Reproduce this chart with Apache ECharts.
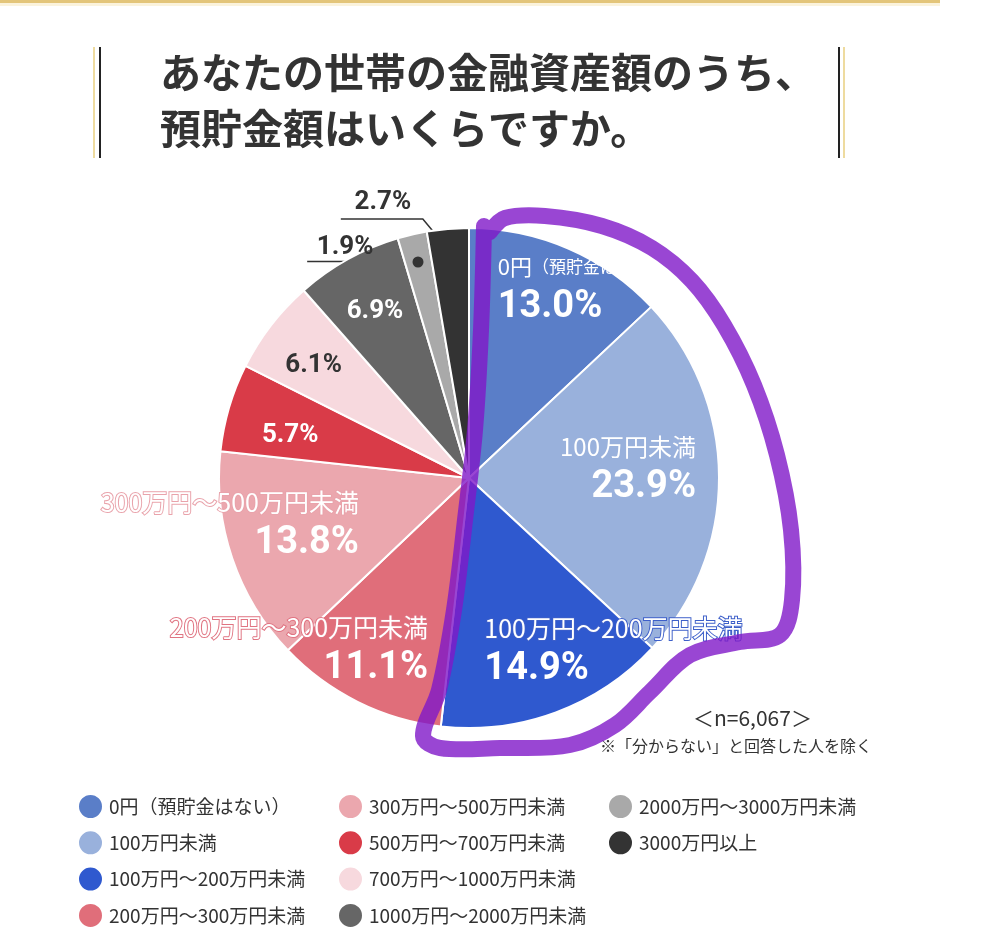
<!DOCTYPE html>
<html>
<head>
<meta charset="utf-8">
<script src="https://cdn.jsdelivr.net/npm/echarts@6/dist/echarts.min.js"></script>
<style>
  html, body { margin: 0; padding: 0; background: #fff; }
  #main { width: 987px; height: 947px; }
</style>
</head>
<body>
<div id="main"></div>
<script>
// 回答カテゴリと割合（%）
var categories = [
  '0円（預貯金はない）', '100万円未満', '100万円～200万円未満', '200万円～300万円未満',
  '300万円～500万円未満', '500万円～700万円未満', '700万円～1000万円未満',
  '1000万円～2000万円未満', '2000万円～3000万円未満', '3000万円以上'
];
var shares = [13.0, 23.9, 14.9, 11.1, 13.8, 5.7, 6.1, 6.9, 1.9, 2.7];
var colors = ['#5a7ec8', '#99b1dc', '#2f59cf', '#e06e7a', '#eba7ae', '#d93b48', '#f7d9de', '#666666', '#a9a9a9', '#333333'];

// ラベルの位置調整（既定位置からのずれ）
var labelShift = [[63, -71], [31, -8], [100, 53], [-113, 58], [-118, 6], [-56, -6], [-54, -34], [-32, -55]];

var cjk = '"Noto Sans CJK JP", sans-serif';
var num = 'Roboto, "Noto Sans", sans-serif';

var myChart = echarts.init(document.getElementById('main'));

var pieData = categories.map(function (name, i) {
  var item = { name: name, value: shares[i], itemStyle: { color: colors[i] } };
  if (i >= 8) {
    item.label = { position: 'outside' };
    item.labelLine = { show: true, lineStyle: { color: '#333', width: 1.5 } };
  }
  return item;
});

function labelText(p) {
  var i = p.dataIndex, pct = p.value.toFixed(1) + '%';
  if (i === 0) return '{z0|0円}{z1|（預貯金はない）}\n{vL|' + pct + '}';
  if (i === 2) return '{n2|' + p.name + '}\n{vL|' + pct + '}';
  if (i >= 1 && i <= 4) return '{n' + i + '|' + p.name + '}\n{vR|' + pct + '}';
  if (i === 6 || i >= 8) return '{sd|' + pct + '}';
  return '{s|' + pct + '}';
}

var option = {
  backgroundColor: '#fff',
  animation: false,
  title: [{
    text: 'あなたの世帯の金融資産額のうち、\n預貯金額はいくらですか。',
    left: 160, top: 44, padding: 0,
    textStyle: { fontFamily: cjk, fontSize: 41, fontWeight: 'bold', color: '#333', lineHeight: 56 }
  }, {
    text: '＜n=6,067＞',
    left: 693, top: 708, padding: 0,
    textStyle: { fontFamily: cjk, fontSize: 21, fontWeight: 'normal', color: '#333' }
  }, {
    text: '※「分からない」と回答した人を除く',
    left: 600, top: 738, padding: 0,
    textStyle: { fontFamily: cjk, fontSize: 16, fontWeight: 'normal', color: '#333' }
  }],
  legend: [0, 1, 2].map(function (c) {
    return {
      orient: 'vertical',
      left: [77, 337, 607][c], top: 793, padding: 0,
      itemWidth: 25, itemHeight: 25, itemGap: 9.3,
      icon: 'circle',
      selectedMode: false,
      data: categories.slice(c * 4, c * 4 + 4),
      textStyle: { fontFamily: cjk, fontSize: 19, color: '#333', padding: [0, 0, 0, 1] }
    };
  }),
  graphic: [
    { type: 'rect', shape: { x: 0, y: 0, width: 940, height: 3 }, style: { fill: '#e3c57a' } },
    { type: 'rect', shape: { x: 0, y: 3, width: 940, height: 3 }, style: { fill: '#fbf3dc' } },
    { type: 'rect', shape: { x: 93, y: 47, width: 2, height: 111 }, style: { fill: '#eedb9f' } },
    { type: 'rect', shape: { x: 99, y: 47, width: 2, height: 111 }, style: { fill: '#222' } },
    { type: 'rect', shape: { x: 838, y: 47, width: 2, height: 111 }, style: { fill: '#222' } },
    { type: 'rect', shape: { x: 843, y: 47, width: 2, height: 111 }, style: { fill: '#eedb9f' } },
    { type: 'circle', z: 50, shape: { cx: 418, cy: 262, r: 5.5 }, style: { fill: '#333' } },
    // 手書きの強調線
    {
      type: 'polyline', z: 100,
      shape: {
        smooth: 0.35,
        points: [[484, 226], [481, 330], [475, 430], [465, 520], [454, 610], [439, 690], [423, 736],
          [440, 748], [500, 748], [570, 745], [615, 725], [650, 692], [690, 655], [740, 642], [780, 635],
          [792, 600], [791, 530], [777, 455], [754, 385], [724, 325], [692, 281], [652, 248], [602, 226],
          [545, 216], [505, 218], [490, 232]]
      },
      style: { stroke: 'rgba(128, 24, 200, 0.8)', lineWidth: 16, fill: null, lineJoin: 'round', lineCap: 'round' }
    }
  ],
  series: [{
    type: 'pie',
    center: [469, 478],
    radius: [0, 250],
    startAngle: 90,
    clockwise: true,
    avoidLabelOverlap: false,
    emphasis: { disabled: true },
    itemStyle: { borderColor: '#fff', borderWidth: 2 },
    label: {
      show: true,
      position: 'inside',
      formatter: labelText,
      rich: {
        z0: { fontFamily: cjk, fontSize: 22, color: '#fff', align: 'left', lineHeight: 36 },
        z1: { fontFamily: cjk, fontSize: 17, color: '#fff', align: 'left', lineHeight: 36 },
        n1: { fontFamily: cjk, fontSize: 24, color: '#fff', align: 'right', lineHeight: 36 },
        n2: { fontFamily: cjk, fontSize: 25, color: '#fff', align: 'left', lineHeight: 36, textBorderColor: '#3d5fc9', textBorderWidth: 2 },
        n3: { fontFamily: cjk, fontSize: 25, color: '#fff', align: 'right', lineHeight: 36, textBorderColor: '#e07482', textBorderWidth: 2 },
        n4: { fontFamily: cjk, fontSize: 25, color: '#fff', align: 'right', lineHeight: 36, textBorderColor: '#e9a3ab', textBorderWidth: 2 },
        vL: { fontFamily: num, fontSize: 38, fontWeight: 'bold', color: '#fff', align: 'left', lineHeight: 46 },
        vR: { fontFamily: num, fontSize: 38, fontWeight: 'bold', color: '#fff', align: 'right', lineHeight: 46 },
        s: { fontFamily: num, fontSize: 26, fontWeight: 'bold', color: '#fff' },
        sd: { fontFamily: num, fontSize: 26, fontWeight: 'bold', color: '#333' }
      }
    },
    labelLine: { show: false },
    labelLayout: function (p) {
      var i = p.dataIndex;
      if (i < 8) return { dx: labelShift[i][0], dy: labelShift[i][1] };
      var a = p.labelLinePoints ? p.labelLinePoints[0] : [0, 0];
      if (i === 8) {
        return {
          x: a[0] - 67, y: a[1] + 13, align: 'center', verticalAlign: 'middle',
          labelLinePoints: [[a[0] + 6, a[1] + 27], [a[0] - 40, a[1] + 27], [a[0] - 105, a[1] + 27]]
        };
      }
      return {
        x: a[0] - 65, y: a[1] - 26, align: 'center', verticalAlign: 'middle',
        labelLinePoints: [[a[0] - 10, a[1] + 8], [a[0] - 25, a[1] - 10], [a[0] - 107, a[1] - 10]]
      };
    },
    data: pieData
  }]
};

myChart.setOption(option);
</script>
</body>
</html>
